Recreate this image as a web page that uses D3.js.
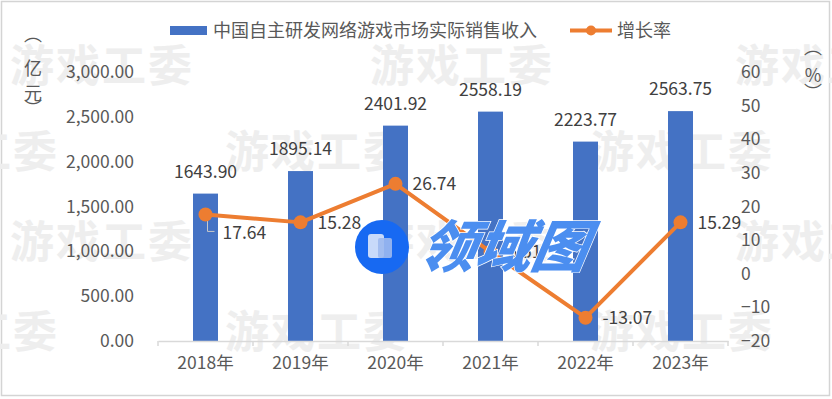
<!DOCTYPE html>
<html><head><meta charset="utf-8">
<script src="https://cdn.jsdelivr.net/npm/d3@7"></script>
<style>html,body{margin:0;padding:0;background:#fff}svg{display:block}text{font-family:"Noto Sans CJK SC","Noto Sans",sans-serif}</style>
</head><body>
<script>
const categories = ["2018年","2019年","2020年","2021年","2022年","2023年"];
const revenue = [1643.90, 1895.14, 2401.92, 2558.19, 2223.77, 2563.75];
const growth = [17.64, 15.28, 26.74, 6.51, -13.07, 15.29];
const leftTicks = [0, 500, 1000, 1500, 2000, 2500, 3000];
const rightTicks = [-20, -10, 0, 10, 20, 30, 40, 50, 60];
const seriesNames = ["中国自主研发网络游戏市场实际销售收入", "增长率"];
const watermark = "游戏工委";

const W = 832, H = 399;
const FS = 17.5;
const FF = '"Noto Sans CJK SC","Noto Sans",sans-serif';
const svg = d3.select("body").append("svg").attr("width", W).attr("height", H);
svg.append("rect").attr("x",1.5).attr("y",1.5).attr("width",828).attr("height",394)
  .attr("fill","#fff").attr("stroke","#d4d4d4").attr("stroke-width",1.5);

// watermarks
const wmPos = [[10,82],[370,82],[735,82],[-125,168],[225,168],[590,168],[10,258],[370,258],[735,258],[-125,348],[225,348],[590,348]];
svg.append("g").selectAll("text").data(wmPos).join("text")
  .attr("x", d=>d[0]).attr("y", d=>d[1]).text(watermark)
  .attr("font-size",44).attr("font-weight","bold").attr("fill","#eeeeee").attr("letter-spacing",2);

const x = d3.scaleBand().domain(categories).range([158, 728]).paddingInner(0).paddingOuter(0);
const yL = d3.scaleLinear().domain([0, 3000]).range([341, 72]);
const yR = d3.scaleLinear().domain([-20, 60]).range([341, 72]);
const cx = c => x(c) + x.bandwidth()/2;

// left axis
const fmt = d3.format(",.2f");
const gL = svg.append("g").attr("transform","translate(134,0)")
  .call(d3.axisLeft(yL).tickValues(leftTicks).tickFormat(fmt).tickSize(0).tickPadding(0));
gL.select(".domain").remove();
gL.selectAll("text").attr("font-size",FS).attr("fill","#595959").attr("font-family",FF);

// right axis
const gR = svg.append("g").attr("transform","translate(741,0)")
  .call(d3.axisRight(yR).tickValues(rightTicks).tickSize(0).tickPadding(0));
gR.select(".domain").remove();
gR.selectAll("text").attr("font-size",FS).attr("fill","#595959").attr("font-family",FF);

// bars
const bw = 25;
svg.append("g").selectAll("rect").data(revenue).join("rect")
  .attr("x",(d,i)=>cx(categories[i]) - bw/2).attr("width",bw)
  .attr("y",d=>yL(d)).attr("height",d=>yL(0)-yL(d)).attr("fill","#4472C4");

// x axis
const gX = svg.append("g").attr("transform",`translate(0,${yL(0)})`)
  .call(d3.axisBottom(x).tickSize(0).tickPadding(16));
gX.select(".domain").attr("stroke","#d9d9d9").attr("stroke-width",1.5);
gX.selectAll("text").attr("font-size",FS).attr("fill","#595959").attr("font-family",FF);
const bounds = categories.map(c=>x(c)).concat([x(categories[categories.length-1])+x.bandwidth()]);
svg.append("g").selectAll("line").data(bounds).join("line")
  .attr("x1",d=>d).attr("x2",d=>d).attr("y1",yL(0)).attr("y2",yL(0)+5)
  .attr("stroke","#d9d9d9").attr("stroke-width",1.5);

// bar labels
svg.append("g").selectAll("text").data(revenue).join("text")
  .attr("x",(d,i)=>cx(categories[i])).attr("y",d=>yL(d)-16)
  .attr("text-anchor","middle").attr("font-size",FS).attr("fill","#404040")
  .text(d=>d.toFixed(2));

// leader line for first growth label
const p0x = cx(categories[0]), p0y = yR(growth[0]);
svg.append("path").attr("d",`M${p0x+2},${p0y+4}V${p0y+17}H${p0x+9}`)
  .attr("fill","none").attr("stroke","#c8c8c8").attr("stroke-width",1);

// line
const line = d3.line().x((d,i)=>cx(categories[i])).y(d=>yR(d));
svg.append("path").datum(growth).attr("d",line).attr("fill","none")
  .attr("stroke","#ED7D31").attr("stroke-width",4).attr("stroke-linejoin","round");
svg.append("g").selectAll("circle").data(growth).join("circle")
  .attr("cx",(d,i)=>cx(categories[i])).attr("cy",d=>yR(d)).attr("r",7).attr("fill","#ED7D31");

// growth labels
svg.append("g").selectAll("text").data(growth).join("text")
  .attr("x",(d,i)=>cx(categories[i]) + 17)
  .attr("y",(d,i)=>yR(d) + (i===0?25:6.5))
  .attr("font-size",FS).attr("fill","#404040")
  .text(d=>d.toFixed(2));

// legend
svg.append("rect").attr("x",170).attr("y",26).attr("width",37).attr("height",9).attr("fill","#4472C4");
svg.append("text").attr("x",213).attr("y",36.5).attr("font-size",18).attr("fill","#595959").text(seriesNames[0]);
svg.append("line").attr("x1",570).attr("x2",612).attr("y1",30.5).attr("y2",30.5).attr("stroke","#ED7D31").attr("stroke-width",4);
svg.append("circle").attr("cx",591).attr("cy",30.5).attr("r",5).attr("fill","#ED7D31");
svg.append("text").attr("x",617).attr("y",36.5).attr("font-size",18).attr("fill","#595959").text(seriesNames[1]);

// unit labels (vertical)
const unitL = ["︵","亿","元","︶"], unitLy = [35, 69, 94, 109];
svg.append("g").selectAll("text").data(unitL).join("text")
  .attr("x",33).attr("y",(d,i)=>unitLy[i]).attr("dy","0.35em").attr("text-anchor","middle")
  .attr("font-size",18).attr("fill","#595959").text(d=>d);
const unitR = ["︵","%","︶"], unitRy = [48, 76, 93];
svg.append("g").selectAll("text").data(unitR).join("text")
  .attr("x",813).attr("y",(d,i)=>unitRy[i]).attr("dy","0.35em").attr("text-anchor","middle")
  .attr("font-size",18).attr("fill","#595959").text(d=>d);

// logo overlay
const logo = svg.append("g");
logo.append("circle").attr("cx",382).attr("cy",247).attr("r",27).attr("fill","#1769f2");
logo.append("rect").attr("x",368).attr("y",234).attr("width",16).attr("height",24).attr("rx",3).attr("fill","#e8eefc").attr("opacity",0.85);
logo.append("rect").attr("x",378).attr("y",238).attr("width",14).attr("height",20).attr("rx",2).attr("fill","#9db9ee").attr("opacity",0.9);
logo.append("text").attr("x",418).attr("y",267).text("领域图")
  .attr("font-size",56).attr("font-weight","900").attr("font-style","italic")
  .attr("transform","skewX(-10) translate(46,0)")
  .attr("fill","#4b8ef0").attr("stroke","#ffffff").attr("stroke-width",1.5).attr("paint-order","stroke");
</script>
</body></html>
